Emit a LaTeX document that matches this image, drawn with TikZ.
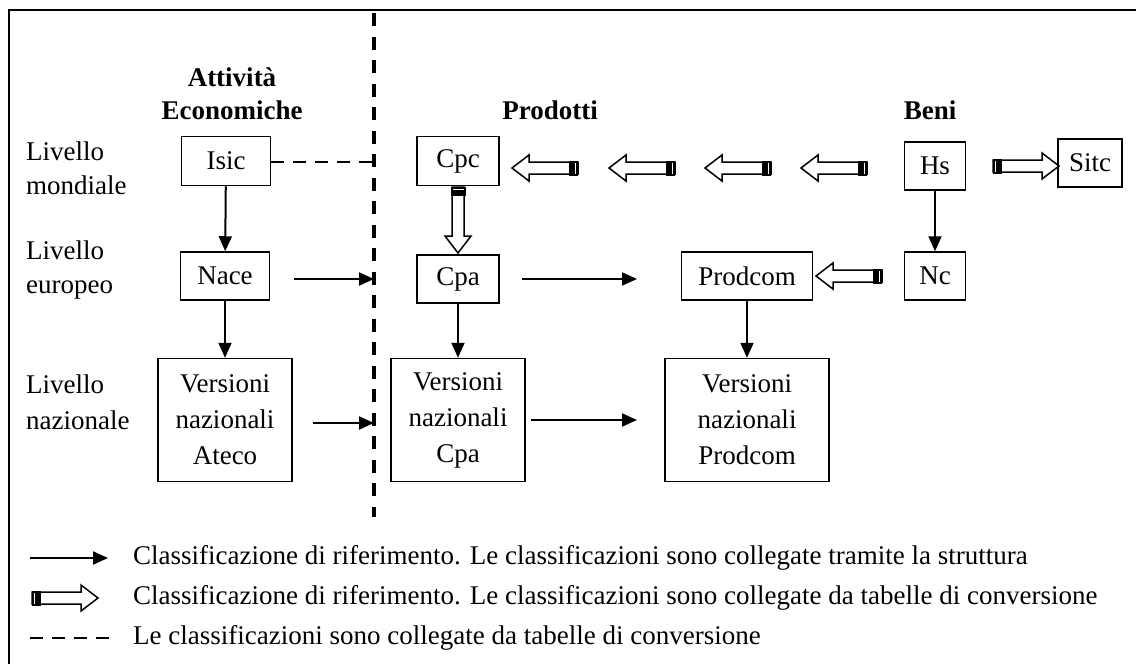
\documentclass[tikz,border=0pt]{standalone}
\usepackage{fontspec}
\setmainfont{Liberation Serif}
\usetikzlibrary{arrows.meta}

\tikzset{
  box/.style={draw, line width=1.5pt, inner sep=0pt, align=center},
  thinarrow/.style={line width=2pt, -{Triangle[length=15pt,width=13pt]}},
  convline/.style={line width=2pt, dash pattern=on 13pt off 9pt},
  fatarrow/.pic={
    \draw[line width=1.5pt, fill=white] (0,-6) -- (49,-6) -- (49,-13) -- (66,0)
      -- (49,13) -- (49,6) -- (0,6) -- cycle;
    \fill (0,-7.5) rectangle (9,7.5);
    \fill[white] (2.2,-5.5) rectangle (3.4,5.5);
  }
}

\begin{document}
\begin{tikzpicture}[x=1pt, y=-1pt, font=\fontsize{27}{36}\selectfont]
\useasboundingbox (0,0) rectangle (1136,664);

% frame and divider
\draw[line width=2pt] (9,664) -- (9,10) -- (1136,10);
\draw[line width=3.3pt, dash pattern=on 13pt off 10.5pt] (374,13) -- (374,517);

% headers
\node[font=\fontsize{27}{33}\selectfont\bfseries, align=center] (hatt) at (232,94) {Attività\\Economiche};
\node[font=\fontsize{27}{33}\selectfont\bfseries] (hprod) at (550,110) {Prodotti};
\node[font=\fontsize{27}{33}\selectfont\bfseries] (hbeni) at (930,110) {Beni};

% levels
\node[anchor=west, align=left, font=\fontsize{27}{34}\selectfont, inner sep=0pt] (lmond) at (26,168) {Livello\\mondiale};
\node[anchor=west, align=left, font=\fontsize{27}{34}\selectfont, inner sep=0pt] (leur) at (26,270) {Livello\\europeo};
\node[anchor=west, align=left, font=\fontsize{27}{36}\selectfont, inner sep=0pt] (lnaz) at (26,402) {Livello\\nazionale};

% classifications
\node[box, minimum width=89pt, minimum height=49pt] (isic) at (226,161) {Isic};
\node[box, minimum width=89pt, minimum height=48pt] (nace) at (225,276) {Nace};
\node[box, minimum width=134pt, minimum height=123pt] (ateco) at (225,420) {Versioni\\nazionali\\Ateco};

\node[box, minimum width=82pt, minimum height=49pt] (cpc) at (458,161) {Cpc};
\node[box, minimum width=82pt, minimum height=48pt] (cpa) at (458,279) {Cpa};
\node[box, minimum width=134pt, minimum height=123pt] (vcpa) at (458,420) {Versioni\\nazionali\\Cpa};

\node[box, minimum width=131pt, minimum height=48pt] (prodcom) at (747,276) {Prodcom};
\node[box, minimum width=164pt, minimum height=123pt] (vprodcom) at (747,420) {Versioni\\nazionali\\Prodcom};

\node[box, minimum width=61pt, minimum height=48pt] (hs) at (935,166) {Hs};
\node[box, minimum width=61pt, minimum height=48pt] (nc) at (935,276) {Nc};
\node[box, minimum width=64pt, minimum height=48pt] (sitc) at (1090,163) {Sitc};

% structure links
\coordinate (dnace) at (374,279);
\coordinate (dateco) at (374,423);
\coordinate (disic) at (374,162);
\coordinate (ecpa) at (637,279);
\coordinate (evcpa) at (637,420);

\draw[thinarrow] (isic) -- (nace);
\draw[thinarrow] (nace) -- (ateco);
\draw[thinarrow] ([xshift=24pt]nace.east |- dnace) -- (dnace);
\draw[thinarrow] ([xshift=20pt]ateco.east |- dateco) -- (dateco);
\draw[thinarrow] (cpa) -- (vcpa);
\draw[thinarrow] ([xshift=22pt]cpa.east |- ecpa) -- (ecpa);
\draw[thinarrow] ([xshift=5pt]vcpa.east |- evcpa) -- (evcpa);
\draw[thinarrow] (prodcom) -- (vprodcom);
\draw[thinarrow] (hs) -- (nc);
\draw[convline] (isic.east |- disic) -- (disic);

% conversion tables
\pic[rotate=180] at (578,168) {fatarrow};
\pic[rotate=180] at (675,168) {fatarrow};
\pic[rotate=180] at (771,168) {fatarrow};
\pic[rotate=180] at (867,168) {fatarrow};
\pic at (993,166) {fatarrow};
\pic[rotate=-90] at (458,187) {fatarrow};
\pic[rotate=180] at (882,276) {fatarrow};

% legend
\coordinate (l1a) at (30,558); \coordinate (l1b) at (108,558);
\coordinate (l3a) at (30,638); \coordinate (l3b) at (110,638);
\draw[thinarrow] (l1a) -- (l1b);
\pic at (32,598) {fatarrow};
\draw[convline] (l3a) -- (l3b);
\node[anchor=west, inner sep=0pt] (t1) at (133,558) {Classificazione di riferimento. Le classificazioni sono collegate tramite la struttura};
\node[anchor=west, inner sep=0pt] (t2) at (133,598) {Classificazione di riferimento. Le classificazioni sono collegate da tabelle di conversione};
\node[anchor=west, inner sep=0pt] (t3) at (133,638) {Le classificazioni sono collegate da tabelle di conversione};
\end{tikzpicture}
\end{document}
